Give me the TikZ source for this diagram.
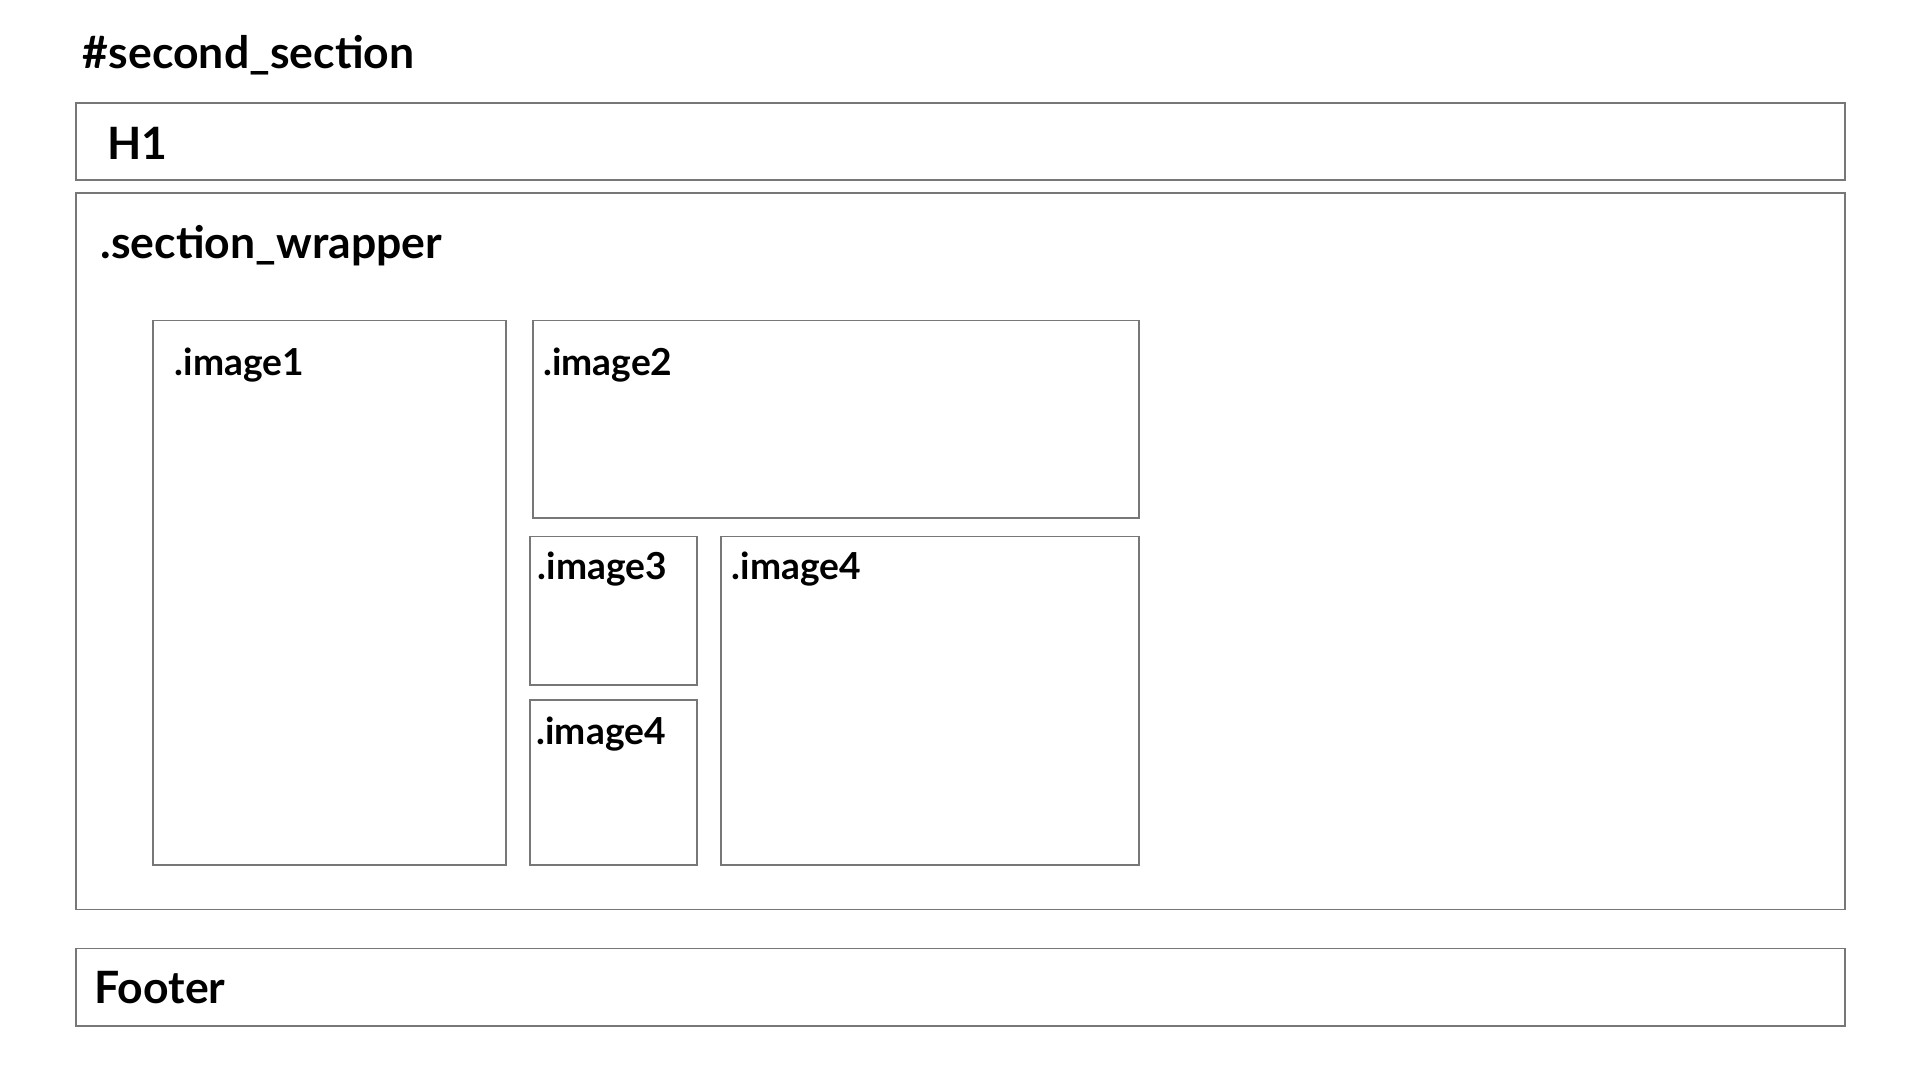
\documentclass[tikz,border=0pt]{standalone}
\usepackage{fontspec}
\setmainfont{Lato}
\usepackage{xcolor}
\usepackage{tikz}
\usetikzlibrary{positioning}
\definecolor{boxgray}{HTML}{777777}

\begin{document}
\begin{tikzpicture}[x=0.00995cm,y=-0.01cm]
		\tikzstyle{box}=[draw=boxgray,line width=0.4pt,inner sep=0,outer sep=0,anchor=north west]
		\tikzstyle{head}=[anchor=base west,inner sep=0,font=\fontsize{10.3}{12}\selectfont\bfseries]
		\tikzstyle{small}=[anchor=base west,inner sep=0,font=\fontsize{8.6}{10}\selectfont\bfseries]
		
		\useasboundingbox (0,0) rectangle (1567.8,877.5);
		
		% outer blocks
		\node[box,minimum width=14.37cm,minimum height=0.625cm] (h1) at (62,84) {};
		\node[box,minimum width=14.37cm,minimum height=5.82cm] (wrapper) at (62,157) {};
		\node[box,minimum width=14.37cm,minimum height=0.63cm] (footer) at (62,771) {};
		
		% images
		\node[box,minimum width=2.865cm,minimum height=4.425cm] (img1) at (125,260.5) {};
		\node[box,minimum width=4.925cm,minimum height=1.605cm] (img2) at (435,260.5) {};
		\node[box,minimum width=1.353cm,minimum height=1.205cm] (img3) at (433,436) {};
		\node[box,minimum width=1.353cm,minimum height=1.34cm] (img4a) at (433,569) {};
		\node[box,minimum width=3.393cm,minimum height=2.67cm] (img4b) at (589,436) {};
		
		% labels
		\node[head] (title) at (67,56) {\#second\_section};
		\node[head] (h1text) at (87,129.5) {H1};
		\node[head] (wraptext) at (81.5,210) {.section\_wrapper};
		\node[head] (foottext) at (76.5,816) {Footer};
		\node[small] (img1text) at (142,305.5) {.image1};
		\node[small] (img2text) at (443,305.5) {.image2};
		\node[small] (img3text) at (438.5,471) {.image3};
		\node[small] (img4atext) at (437.5,605.5) {.image4};
		\node[small] (img4btext) at (597,471) {.image4};
\end{tikzpicture}
\end{document}
